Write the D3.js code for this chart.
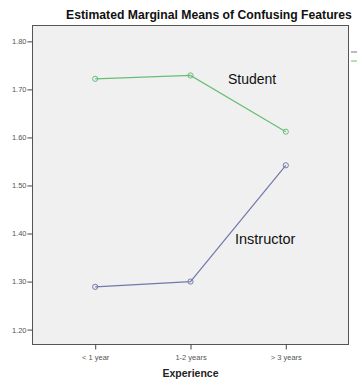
<!DOCTYPE html>
<html>
<head>
<meta charset="utf-8">
<script src="https://cdn.jsdelivr.net/npm/d3@7"></script>
<style>
  html, body { margin: 0; padding: 0; background: #fff; }
  svg { display: block; font-family: Arial, "Liberation Sans", sans-serif; }
</style>
</head>
<body>
<svg id="chart" width="357" height="385"></svg>
<script>
// Experience categories and estimated marginal means per group
const experience = ["< 1 year", "1-2 years", "> 3 years"];
const studentMeans = [1.722, 1.729, 1.612];
const instructorMeans = [1.289, 1.300, 1.542];
const yTicks = [1.20, 1.30, 1.40, 1.50, 1.60, 1.70, 1.80];
const yExtent = [1.169, 1.833];
const groups = ["Student", "Instructor"];
const groupColors = ["#66bf75", "#717aab"];

const svg = d3.select("#chart");
const frame = { left: 32.5, right: 348.5, top: 25.5, bottom: 344.5 };

const x = d3.scalePoint()
  .domain(experience)
  .range([frame.left, frame.right])
  .padding(0.658);

const y = d3.scaleLinear()
  .domain(yExtent)
  .range([frame.bottom, frame.top]);

// Plot area
svg.append("rect")
  .attr("x", frame.left).attr("y", frame.top)
  .attr("width", frame.right - frame.left)
  .attr("height", frame.bottom - frame.top)
  .attr("fill", "#f0f0f0")
  .attr("stroke", "#555")
  .attr("stroke-width", 1);

// Title
svg.append("text")
  .attr("x", 209).attr("y", 19)
  .attr("text-anchor", "middle")
  .attr("font-size", "12.2px")
  .attr("font-weight", "bold")
  .attr("fill", "#111")
  .text("Estimated Marginal Means of Confusing Features");

// Y axis
const yAxis = d3.axisLeft(y)
  .tickValues(yTicks)
  .tickFormat(d3.format(".2f"))
  .tickSize(5)
  .tickPadding(1);
const gy = svg.append("g").attr("transform", `translate(${frame.left},0)`).call(yAxis);
gy.select(".domain").remove();
gy.selectAll(".tick line").attr("stroke", "#444");
gy.selectAll(".tick text").attr("font-size", "7.5px").attr("fill", "#555")
  .attr("font-family", "Arial, 'Liberation Sans', sans-serif");

// X axis
const xAxis = d3.axisBottom(x).tickSize(5).tickPadding(5);
const gx = svg.append("g").attr("transform", `translate(0,${frame.bottom})`).call(xAxis);
gx.select(".domain").remove();
gx.selectAll(".tick line").attr("stroke", "#444");
gx.selectAll(".tick text").attr("font-size", "7.5px").attr("fill", "#555")
  .attr("font-family", "Arial, 'Liberation Sans', sans-serif");

svg.append("text")
  .attr("x", x(experience[1])).attr("y", 377)
  .attr("text-anchor", "middle")
  .attr("font-size", "10.5px")
  .attr("font-weight", "bold")
  .attr("fill", "#222")
  .text("Experience");

// Lines and markers
const series = [studentMeans, instructorMeans];
const line = d3.line().x((d, i) => x(experience[i])).y(d => y(d));

series.forEach((vals, k) => {
  svg.append("path")
    .datum(vals)
    .attr("d", line)
    .attr("fill", "none")
    .attr("stroke", groupColors[k])
    .attr("stroke-width", 1.2);
  svg.selectAll(null)
    .data(vals)
    .enter().append("circle")
    .attr("cx", (d, i) => x(experience[i]))
    .attr("cy", d => y(d))
    .attr("r", 2.6)
    .attr("fill", "none")
    .attr("stroke", groupColors[k])
    .attr("stroke-width", 1);
});

// Group labels
svg.append("text")
  .attr("x", 228).attr("y", 84)
  .attr("font-size", "14px")
  .attr("fill", "#111")
  .text(groups[0]);

svg.append("text")
  .attr("x", 235).attr("y", 244)
  .attr("font-size", "14.5px")
  .attr("fill", "#111")
  .text(groups[1]);

// Legend line keys at the right edge
const legendY = [61, 52];
[0, 1].forEach(k => {
  svg.append("line")
    .attr("x1", 351).attr("x2", 357)
    .attr("y1", legendY[k]).attr("y2", legendY[k])
    .attr("stroke", k === 0 ? groupColors[0] : "#777")
    .attr("stroke-width", 1);
});
</script>
</body>
</html>
